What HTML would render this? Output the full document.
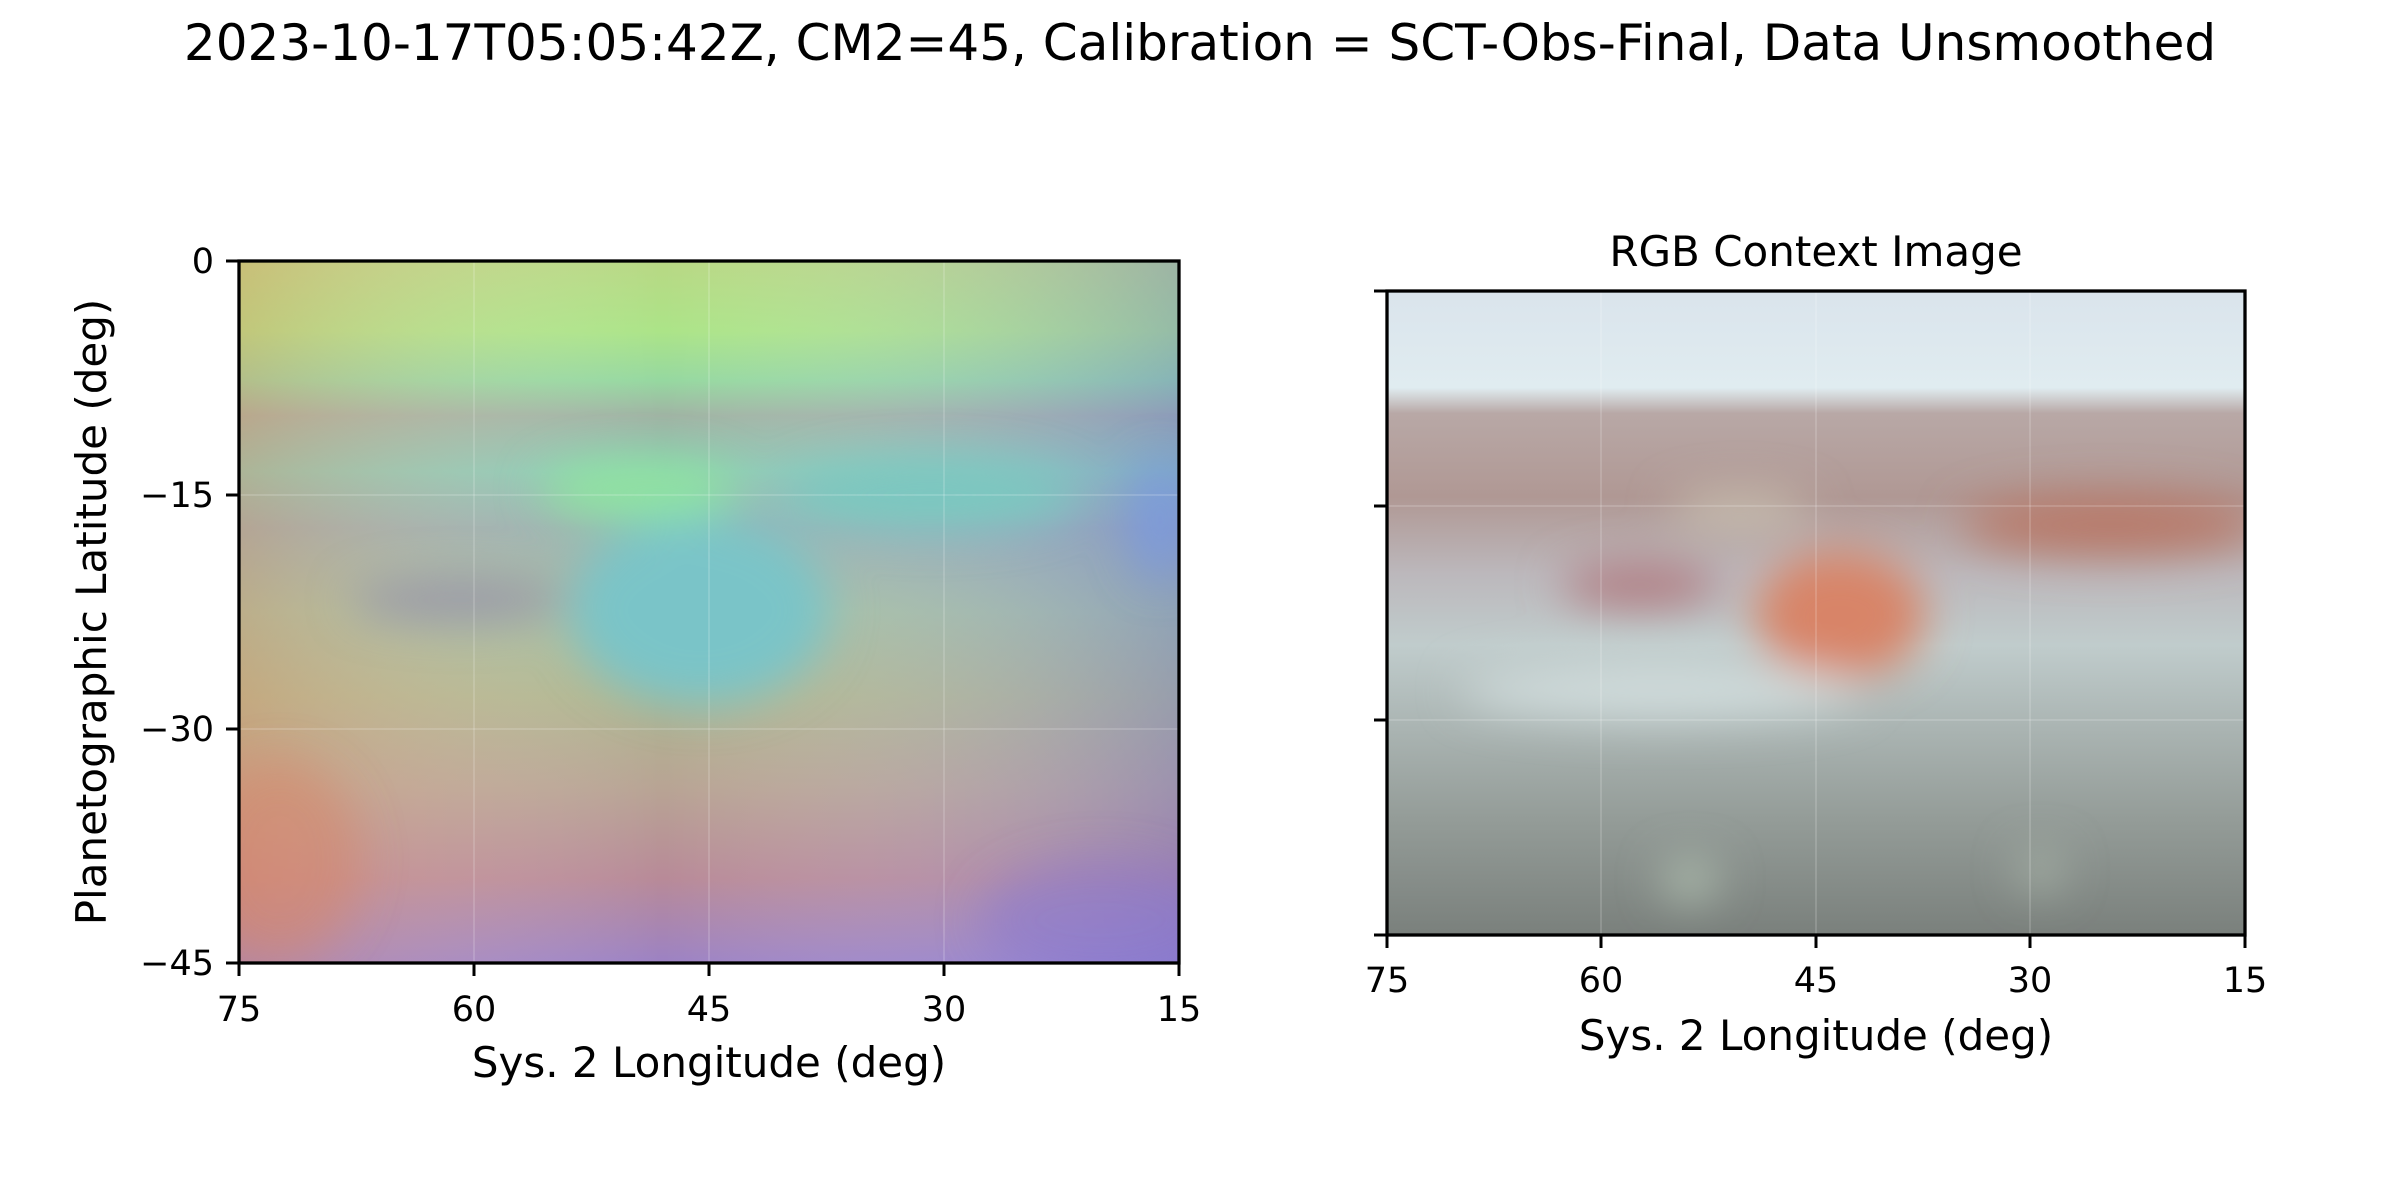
<!DOCTYPE html>
<html><head><meta charset="utf-8"><style>
body{margin:0;background:#fff;}
svg{display:block;font-family:"DejaVu Sans","Liberation Sans",sans-serif;}
</style></head><body>
<svg width="2400" height="1200" viewBox="0 0 2400 1200">
<defs>
<linearGradient id="lg" x1="0" y1="0" x2="0" y2="1">
<stop offset="0" stop-color="#b8d884"/><stop offset="0.1" stop-color="#ace488"/>
<stop offset="0.17" stop-color="#96d8a0"/><stop offset="0.22" stop-color="#a0b4a4"/>
<stop offset="0.3" stop-color="#8cc8b4"/><stop offset="0.38" stop-color="#98b0b0"/>
<stop offset="0.5" stop-color="#a4bea0"/><stop offset="0.62" stop-color="#b0b690"/>
<stop offset="0.75" stop-color="#b8a494"/><stop offset="0.88" stop-color="#b88a98"/>
<stop offset="1" stop-color="#9c82c4"/></linearGradient>
<linearGradient id="lh" x1="0" y1="0" x2="1" y2="0">
<stop offset="0" stop-color="#e89060" stop-opacity="0.35"/><stop offset="0.45" stop-color="#ffffff" stop-opacity="0"/>
<stop offset="1" stop-color="#6a70e0" stop-opacity="0.35"/></linearGradient>
<linearGradient id="rg" x1="0" y1="0" x2="0" y2="1">
<stop offset="0" stop-color="#dae4ec"/><stop offset="0.15" stop-color="#e0ecf0"/>
<stop offset="0.19" stop-color="#b8a8a6"/><stop offset="0.32" stop-color="#b09894"/>
<stop offset="0.44" stop-color="#bcb8bc"/><stop offset="0.55" stop-color="#c0cccc"/>
<stop offset="0.68" stop-color="#aab4b2"/><stop offset="0.82" stop-color="#949c98"/>
<stop offset="1" stop-color="#7a807c"/></linearGradient>
<filter id="b" x="-50%" y="-50%" width="200%" height="200%"><feGaussianBlur stdDeviation="22"/></filter>
<clipPath id="cl"><rect x="239" y="261" width="940" height="702"/></clipPath>
<clipPath id="cr"><rect x="1387" y="291" width="858" height="644"/></clipPath>
</defs>
<text x="1200" y="60" font-size="50" text-anchor="middle">2023-10-17T05:05:42Z, CM2=45, Calibration = SCT-Obs-Final, Data Unsmoothed</text>

<g clip-path="url(#cl)">
<rect x="239" y="261" width="940" height="702" fill="url(#lg)"/>
<rect x="239" y="261" width="940" height="702" fill="url(#lh)"/>
<g filter="url(#b)">
<ellipse cx="700" cy="610" rx="130" ry="95" fill="#7ac4c8"/>
<ellipse cx="640" cy="490" rx="100" ry="30" fill="#90e4a0"/>
<ellipse cx="930" cy="495" rx="150" ry="35" fill="#7ac8c0"/>
<ellipse cx="460" cy="600" rx="110" ry="22" fill="#9a98a8"/>
<ellipse cx="1160" cy="520" rx="30" ry="60" fill="#7a9ae0" opacity="0.8"/>
<ellipse cx="280" cy="860" rx="80" ry="100" fill="#d8886a" opacity="0.5"/>
<ellipse cx="1100" cy="920" rx="120" ry="60" fill="#8a78d0" opacity="0.5"/>
</g>
<line x1="474" y1="261" x2="474" y2="963" stroke="#fff" stroke-opacity="0.3"/>
<line x1="709" y1="261" x2="709" y2="963" stroke="#fff" stroke-opacity="0.3"/>
<line x1="944" y1="261" x2="944" y2="963" stroke="#fff" stroke-opacity="0.3"/>
<line x1="239" y1="495" x2="1179" y2="495" stroke="#fff" stroke-opacity="0.3"/>
<line x1="239" y1="729" x2="1179" y2="729" stroke="#fff" stroke-opacity="0.3"/>
</g>
<rect x="239" y="261" width="940" height="702" fill="none" stroke="#000" stroke-width="3.3"/>
<g font-size="35">
<line x1="226" y1="261" x2="239" y2="261" stroke="#000" stroke-width="3"/><text x="214" y="273" text-anchor="end">0</text>
<line x1="226" y1="495" x2="239" y2="495" stroke="#000" stroke-width="3"/><text x="214" y="507" text-anchor="end">−15</text>
<line x1="226" y1="729" x2="239" y2="729" stroke="#000" stroke-width="3"/><text x="214" y="741" text-anchor="end">−30</text>
<line x1="226" y1="963" x2="239" y2="963" stroke="#000" stroke-width="3"/><text x="214" y="975" text-anchor="end">−45</text>
</g>
<g font-size="35" text-anchor="middle">
<line x1="239" y1="963" x2="239" y2="976" stroke="#000" stroke-width="3"/><text x="239" y="1021">75</text>
<line x1="474" y1="963" x2="474" y2="976" stroke="#000" stroke-width="3"/><text x="474" y="1021">60</text>
<line x1="709" y1="963" x2="709" y2="976" stroke="#000" stroke-width="3"/><text x="709" y="1021">45</text>
<line x1="944" y1="963" x2="944" y2="976" stroke="#000" stroke-width="3"/><text x="944" y="1021">30</text>
<line x1="1179" y1="963" x2="1179" y2="976" stroke="#000" stroke-width="3"/><text x="1179" y="1021">15</text>
</g>
<text x="709" y="1077" font-size="42" text-anchor="middle">Sys. 2 Longitude (deg)</text>
<text transform="translate(106,612) rotate(-90)" font-size="42" text-anchor="middle">Planetographic Latitude (deg)</text>

<text x="1816" y="266" font-size="42" text-anchor="middle">RGB Context Image</text>
<g clip-path="url(#cr)">
<rect x="1387" y="291" width="858" height="644" fill="url(#rg)"/>
<g filter="url(#b)">
<ellipse cx="1840" cy="615" rx="85" ry="65" fill="#d88468"/>
<ellipse cx="2110" cy="525" rx="150" ry="30" fill="#b87868"/>
<ellipse cx="1640" cy="585" rx="80" ry="22" fill="#b07a80"/>
<ellipse cx="1740" cy="510" rx="70" ry="18" fill="#c8c0b0"/>
<ellipse cx="1660" cy="690" rx="200" ry="28" fill="#d0dcdc"/>
<ellipse cx="1690" cy="880" rx="28" ry="20" fill="#b0c0b0"/>
<ellipse cx="2040" cy="870" rx="22" ry="20" fill="#a8b4a8"/>
</g>
<line x1="1601" y1="291" x2="1601" y2="935" stroke="#fff" stroke-opacity="0.3"/>
<line x1="1816" y1="291" x2="1816" y2="935" stroke="#fff" stroke-opacity="0.3"/>
<line x1="2030" y1="291" x2="2030" y2="935" stroke="#fff" stroke-opacity="0.3"/>
<line x1="1387" y1="506" x2="2245" y2="506" stroke="#fff" stroke-opacity="0.3"/>
<line x1="1387" y1="720" x2="2245" y2="720" stroke="#fff" stroke-opacity="0.3"/>
</g>
<rect x="1387" y="291" width="858" height="644" fill="none" stroke="#000" stroke-width="3.3"/>
<g stroke="#000" stroke-width="3">
<line x1="1374" y1="291" x2="1387" y2="291"/><line x1="1374" y1="506" x2="1387" y2="506"/>
<line x1="1374" y1="720" x2="1387" y2="720"/><line x1="1374" y1="935" x2="1387" y2="935"/>
</g>
<g font-size="35" text-anchor="middle">
<line x1="1387" y1="935" x2="1387" y2="948" stroke="#000" stroke-width="3"/><text x="1387" y="992">75</text>
<line x1="1601" y1="935" x2="1601" y2="948" stroke="#000" stroke-width="3"/><text x="1601" y="992">60</text>
<line x1="1816" y1="935" x2="1816" y2="948" stroke="#000" stroke-width="3"/><text x="1816" y="992">45</text>
<line x1="2030" y1="935" x2="2030" y2="948" stroke="#000" stroke-width="3"/><text x="2030" y="992">30</text>
<line x1="2245" y1="935" x2="2245" y2="948" stroke="#000" stroke-width="3"/><text x="2245" y="992">15</text>
</g>
<text x="1816" y="1050" font-size="42" text-anchor="middle">Sys. 2 Longitude (deg)</text>
</svg>
</body></html>
